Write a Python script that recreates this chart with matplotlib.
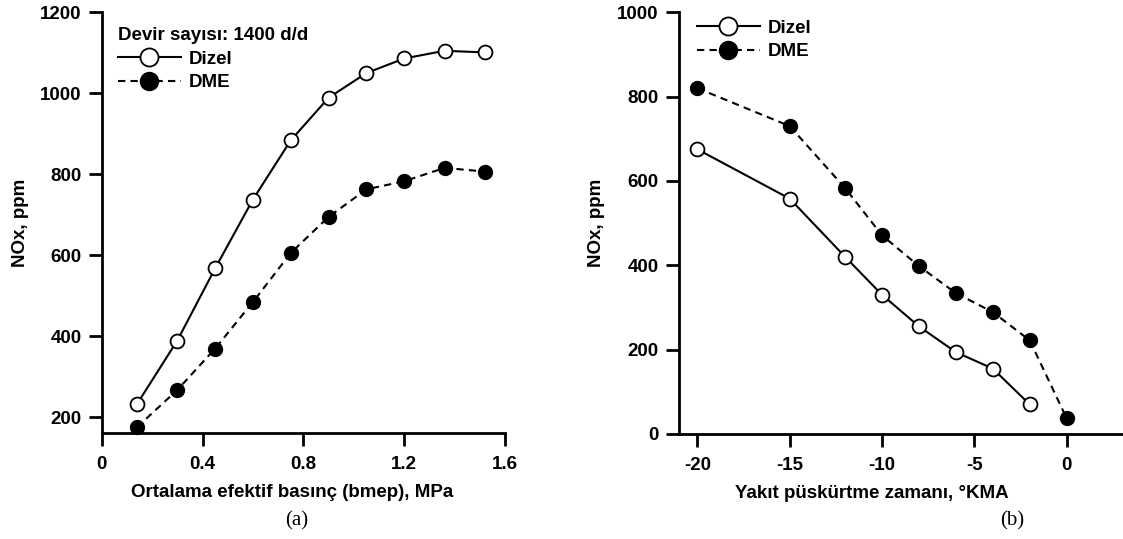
import matplotlib
matplotlib.use("Agg")
import matplotlib.pyplot as plt
from matplotlib.lines import Line2D

plt.rcParams['font.family'] = ['Liberation Sans', 'DejaVu Sans']
plt.rcParams['font.weight'] = 'bold'
plt.rcParams['axes.unicode_minus'] = False

# (a) NOx vs bmep
bmep = [0.14, 0.30, 0.45, 0.60, 0.75, 0.90, 1.05, 1.20, 1.36, 1.52]
nox_dizel_a = [233, 390, 568, 738, 884, 989, 1050, 1086, 1105, 1101]
nox_dme_a = [176, 268, 370, 485, 606, 695, 763, 783, 816, 807]

# (b) NOx vs injection timing
timing_dizel = [-20, -15, -12, -10, -8, -6, -4, -2]
nox_dizel_b = [675, 558, 420, 330, 255, 194, 155, 70]
timing_dme = [-20, -15, -12, -10, -8, -6, -4, -2, 0]
nox_dme_b = [820, 730, 583, 471, 398, 334, 289, 222, 37]

W, H = 1123, 539
fig = plt.figure(figsize=(W / 100, H / 100), dpi=100)

fs = 13.5
lw = 1.5
ms = 10
dash = (0, (3.5, 2.5))


def style_axes(ax):
    for s in ['top', 'right']:
        ax.spines[s].set_visible(False)
    for s in ['left', 'bottom']:
        ax.spines[s].set_linewidth(2)
    ax.tick_params(direction='out', length=9.5, width=2, labelsize=fs)
    ax.tick_params(axis='x', pad=7)
    ax.tick_params(axis='y', pad=5)
    for lab in ax.get_xticklabels() + ax.get_yticklabels():
        lab.set_fontweight('bold')


def legend_handles():
    h1 = Line2D([], [], color='black', lw=lw, marker='o', ms=13,
                mfc='white', mec='black', mew=1.3)
    h2 = Line2D([], [], color='black', lw=lw, ls=dash, marker='o', ms=13,
                mfc='black', mec='black')
    return [h1, h2]


# ---- panel (a)
ax1 = fig.add_axes([101.7 / W, (H - 433.3) / H, 403.3 / W, 421.0 / H])
ax1.plot(bmep, nox_dizel_a, color='black', lw=lw, marker='o', ms=ms,
         mfc='white', mec='black', mew=1.3, clip_on=False)
ax1.plot(bmep, nox_dme_a, color='black', lw=lw, ls=dash, marker='o', ms=ms,
         mfc='black', mec='black', clip_on=False)
ax1.set_xlim(0, 1.6)
ax1.set_ylim(161, 1200)
ax1.set_xticks([0, 0.4, 0.8, 1.2, 1.6])
ax1.set_xticklabels(['0', '0.4', '0.8', '1.2', '1.6'])
ax1.set_yticks([200, 400, 600, 800, 1000, 1200])
style_axes(ax1)
ax1.set_xlabel('Ortalama efektif basınç (bmep), MPa', fontsize=fs,
               fontweight='bold', labelpad=8, x=0.472)
ax1.set_ylabel('NOx, ppm', fontsize=fs, fontweight='bold')
ax1.yaxis.set_label_coords(-0.18, 0.5)
leg1 = ax1.legend(legend_handles(), ['Dizel', 'DME'], loc='upper left',
                  bbox_to_anchor=(0.04, 0.965), frameon=False,
                  title='Devir sayısı: 1400 d/d',
                  prop={'size': fs, 'weight': 'bold'},
                  title_fontproperties={'size': fs, 'weight': 'bold'},
                  handlelength=3.36, handletextpad=0.43, labelspacing=0.35,
                  borderaxespad=0, borderpad=0)
leg1._legend_box.align = 'left'
fig.text(297 / W, 1 - 521 / H, '(a)', ha='center', va='center',
         fontsize=15, family='Liberation Serif', fontweight='normal')

# ---- panel (b)
x_left = 679 / W
ax2 = fig.add_axes([x_left, (H - 434) / H, 1 - x_left, 421.7 / H])
ax2.plot(timing_dizel, nox_dizel_b, color='black', lw=lw, marker='o', ms=ms,
         mfc='white', mec='black', mew=1.3, clip_on=False)
ax2.plot(timing_dme, nox_dme_b, color='black', lw=lw, ls=dash, marker='o', ms=ms,
         mfc='black', mec='black', clip_on=False)
ax2.set_xlim(-21.0, 3.05)
ax2.set_ylim(0, 1000)
ax2.set_xticks([-20, -15, -10, -5, 0])
ax2.set_yticks([0, 200, 400, 600, 800, 1000])
style_axes(ax2)
ax2.set_xlabel('Yakıt püskürtme zamanı, °KMA', fontsize=fs,
               fontweight='bold', labelpad=8, x=0.434)
ax2.set_ylabel('NOx, ppm', fontsize=fs, fontweight='bold')
ax2.yaxis.set_label_coords(-0.166, 0.5)
ax2.legend(legend_handles(), ['Dizel', 'DME'], loc='upper left',
           bbox_to_anchor=(0.04, 0.983), frameon=False,
           prop={'size': fs, 'weight': 'bold'},
           handlelength=3.36, handletextpad=0.43, labelspacing=0.35,
           borderaxespad=0, borderpad=0)
fig.text(1012 / W, 1 - 521 / H, '(b)', ha='center', va='center',
         fontsize=15, family='Liberation Serif', fontweight='normal')

fig.savefig('out.png', dpi=100)
